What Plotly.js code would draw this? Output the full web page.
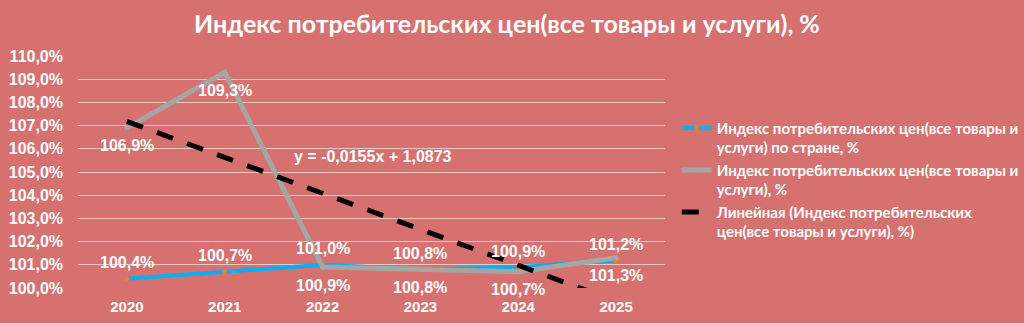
<!DOCTYPE html>
<html><head><meta charset="utf-8">
<script src="https://cdn.plot.ly/plotly-3.0.1.min.js"></script>
<style>html,body{margin:0;padding:0;background:#D77170;}#chart{width:1024px;height:323px;}</style>
</head><body><div id="chart"></div>
<script>
const years = ['2020','2021','2022','2023','2024','2025'];
const cpiCountry = [100.4, 100.7, 101.0, 100.8, 100.9, 101.2];
const cpiAll = [106.9, 109.3, 100.9, 100.8, 100.7, 101.3];
const trendValues = [107.18, 105.63, 104.08, 102.53, 100.98, 99.43];
const yTickVals = [100,101,102,103,104,105,106,107,108,109,110];
const yTickText = ['100,0%','101,0%','102,0%','103,0%','104,0%','105,0%','106,0%','107,0%','108,0%','109,0%','110,0%'];
const name1 = 'Индекс потребительских цен(все товары и<br>услуги) по стране, %';
const name2 = 'Индекс потребительских цен(все товары и<br>услуги), %';
const name3 = 'Линейная (Индекс потребительских<br>цен(все товары и услуги), %)';
const equation = 'y = -0,0155x + 1,0873';
const fmt = v => v.toFixed(1).replace('.', ',') + '%';

const labelFont = {family:'Liberation Sans, Arial', size:16, color:'#FFFFFF', weight:'bold'};
const traces = [
  {x: years, y: cpiCountry, name: name1, type:'scatter', mode:'lines+markers',
   line:{color:'#00B0F0', width:4}, marker:{color:'#ED7D31', size:5}},
  {x: years, y: cpiAll, name: name2, type:'scatter', mode:'lines+markers',
   line:{color:'#A5A5A5', width:5}, marker:{color:'#A5A5A5', size:5}},
  {x: years, y: trendValues, name: name3, type:'scatter', mode:'lines',
   line:{color:'#000000', width:5, dash:'17px,15px'}, hoverinfo:'skip'}
];
const annotations = [];
years.forEach((yr, i) => {
  annotations.push({x: i, y: cpiCountry[i], text: fmt(cpiCountry[i]), showarrow:false,
    xanchor:'center', yanchor:'middle', yshift:16, font: labelFont});
  annotations.push({x: i, y: cpiAll[i], text: fmt(cpiAll[i]), showarrow:false,
    xanchor:'center', yanchor:'middle', yshift:-18, font: labelFont});
});
annotations.push({text:equation, xref:'paper', yref:'paper', x:0.5026, y:0.565, showarrow:false,
  xanchor:'center', yanchor:'middle',
  font:{family:'Liberation Sans, Arial', size:16, color:'#FFFFFF', weight:'bold'}});

const layout = {
  width:1024, height:323,
  paper_bgcolor:'#D77170', plot_bgcolor:'#D77170',
  margin:{l:78, r:359, t:56, b:35, autoexpand:false},
  title:{text:'Индекс потребительских цен(все товары и услуги), %', x:0.495, xanchor:'center', y:0.925, yanchor:'middle',
         font:{family:'Lato', size:25, color:'#FFFFFF', weight:'bold'}},
  xaxis:{type:'category', categoryorder:'array', categoryarray: years, range:[-0.5, 5.5],
         showgrid:false, zeroline:false, showline:false, ticks:'',
         ticklabelstandoff:8,
         tickfont:{family:'Liberation Sans, Arial', size:15, color:'#FFFFFF', weight:'bold'}},
  yaxis:{range:[100,110], tickvals:yTickVals, ticktext:yTickText, showgrid:true,
         gridcolor:'rgba(235,210,210,0.9)', gridwidth:1, zeroline:false, showline:false, ticks:'',
         ticklabelstandoff:14,
         tickfont:{family:'Liberation Sans, Arial', size:16, color:'#FFFFFF', weight:'bold'}},
  legend:{x:1.02, xanchor:'left', y:0.76, yanchor:'top', valign:'top', bgcolor:'rgba(0,0,0,0)',
          font:{family:'Lato', size:15, color:'#FFFFFF', weight:'bold'}, tracegroupgap:3},
  annotations: annotations,
  showlegend:true
};
Plotly.newPlot('chart', traces, layout, {displayModeBar:false, staticPlot:true});
</script></body></html>
